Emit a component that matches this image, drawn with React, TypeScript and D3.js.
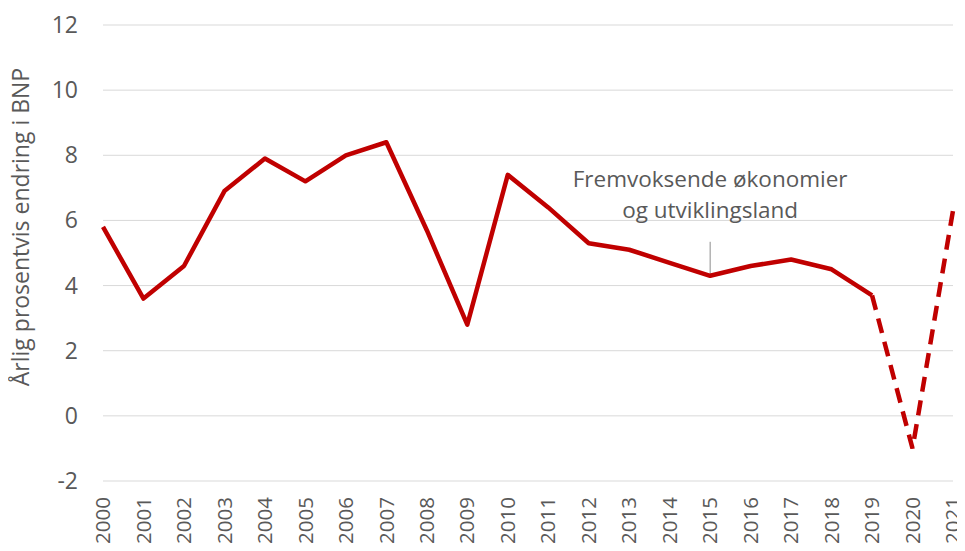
import * as d3 from "d3";
import React, { useRef, useEffect } from "react";

const years = [
  "2000", "2001", "2002", "2003", "2004", "2005", "2006", "2007", "2008", "2009", "2010",
  "2011", "2012", "2013", "2014", "2015", "2016", "2017", "2018", "2019", "2020", "2021",
];
const growth = [
  5.8, 3.6, 4.6, 6.9, 7.9, 7.2, 8.0, 8.4, 5.7, 2.8, 7.4,
  6.4, 5.3, 5.1, 4.7, 4.3, 4.6, 4.8, 4.5, 3.7, -1.0, 6.3,
];
const yTicks = [-2, 0, 2, 4, 6, 8, 10, 12];
const forecastFrom = "2019";
const noteYear = "2015";
const noteLines = ["Fremvoksende økonomier", "og utviklingsland"];

const width = 965,
  height = 551;
const margin = { top: 25, right: 12, bottom: 70, left: 103 };
const font = "'Open Sans', sans-serif";
const textColor = "#595959";

function App() {
  const ref = useRef(null);

  useEffect(() => {
    const svg = d3.select(ref.current);
    svg.selectAll("*").remove();

    const x = d3
      .scalePoint()
      .domain(years)
      .range([margin.left, width - margin.right]);
    const y = d3
      .scaleLinear()
      .domain([-2, 12])
      .range([height - margin.bottom, margin.top]);

    // gridlines
    svg
      .append("g")
      .selectAll("line")
      .data(yTicks)
      .enter()
      .append("line")
      .attr("x1", margin.left)
      .attr("x2", width - margin.right)
      .attr("y1", (d) => y(d))
      .attr("y2", (d) => y(d))
      .attr("stroke", "#d9d9d9")
      .attr("stroke-width", 1);

    // y labels
    svg
      .append("g")
      .selectAll("text")
      .data(yTicks)
      .enter()
      .append("text")
      .attr("x", 78)
      .attr("y", (d) => y(d))
      .attr("dy", "0.35em")
      .attr("text-anchor", "end")
      .attr("font-family", font)
      .attr("font-size", 23)
      .attr("fill", textColor)
      .text((d) => d);

    // x labels
    svg
      .append("g")
      .selectAll("text")
      .data(years)
      .enter()
      .append("text")
      .attr(
        "transform",
        (d) => `translate(${x(d)},${height - margin.bottom + 16}) rotate(-90)`
      )
      .attr("dy", "0.35em")
      .attr("text-anchor", "end")
      .attr("font-family", font)
      .attr("font-size", 20.5)
      .attr("fill", textColor)
      .text((d) => d);

    // axis title
    svg
      .append("text")
      .attr("transform", `translate(21,227) rotate(-90)`)
      .attr("dy", "0.35em")
      .attr("text-anchor", "middle")
      .attr("font-family", font)
      .attr("font-size", 23)
      .attr("fill", textColor)
      .text("Årlig prosentvis endring i BNP");

    const data = years.map((yr, i) => ({ yr, v: growth[i] }));
    const cut = years.indexOf(forecastFrom);
    const line = d3
      .line<any>()
      .x((d) => x(d.yr))
      .y((d) => y(d.v));

    // annotation
    const nx = x(noteYear);
    const ni = years.indexOf(noteYear);
    svg
      .append("line")
      .attr("x1", nx)
      .attr("x2", nx)
      .attr("y1", y(growth[ni]) - 34)
      .attr("y2", y(growth[ni]))
      .attr("stroke", "#8c8c8c")
      .attr("stroke-width", 1);
    svg
      .append("g")
      .selectAll("text")
      .data(noteLines)
      .enter()
      .append("text")
      .attr("x", nx)
      .attr("y", (d, i) => 187 + i * 31)
      .attr("text-anchor", "middle")
      .attr("font-family", font)
      .attr("font-size", 22.5)
      .attr("fill", textColor)
      .text((d) => d);

    svg
      .append("path")
      .datum(data.slice(0, cut + 1))
      .attr("d", line)
      .attr("fill", "none")
      .attr("stroke", "#c00000")
      .attr("stroke-width", 4.5)
      .attr("stroke-linejoin", "round");

    svg
      .append("path")
      .datum(data.slice(cut))
      .attr("d", line)
      .attr("fill", "none")
      .attr("stroke", "#c00000")
      .attr("stroke-width", 4.5)
      .attr("stroke-dasharray", "15,9");
  }, []);

  return (
    <div>
      <svg ref={ref} width={width} height={height} style={{ display: "block", margin: "-8px" }}></svg>
    </div>
  );
}

export default App;
